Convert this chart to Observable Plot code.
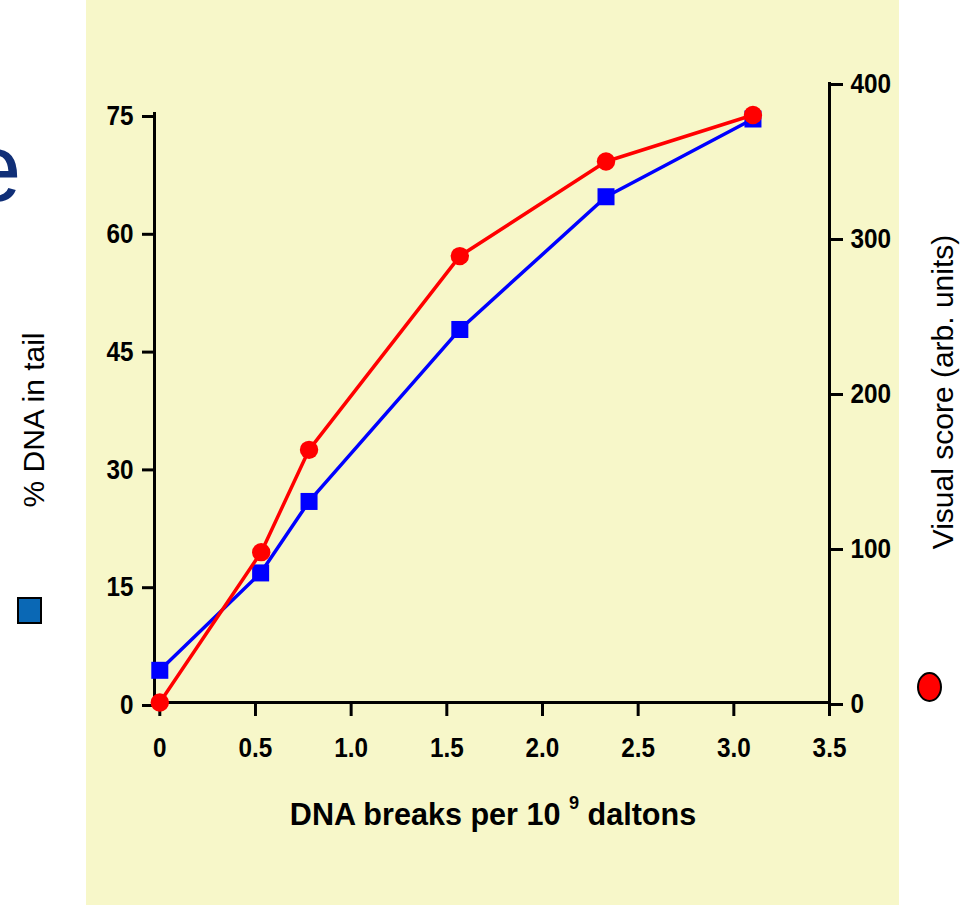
<!DOCTYPE html>
<html>
<head>
<meta charset="utf-8">
<script src="https://cdn.jsdelivr.net/npm/d3@7"></script>
<script src="https://cdn.jsdelivr.net/npm/@observablehq/plot@0.6"></script>
<style>
  body { margin: 0; background: #fff; }
  #wrap { position: relative; width: 965px; height: 905px; overflow: hidden; background: #fff;
          font-family: "Liberation Sans", Arial, Helvetica, sans-serif; }
  #panel { position: absolute; left: 86px; top: 0; width: 813px; height: 905px; background: #f7f7c9; }
  #chart { position: absolute; left: 0; top: 0; }
  #title-e { position: absolute; left: -32px; top: 120px; font-size: 96px; line-height: 96px; color: #102f77; }
  #xlabel { position: absolute; left: 193px; width: 600px; top: 798px; text-align: center; font-size: 32px;
            line-height: 32px; font-weight: bold; color: #000; white-space: nowrap;
            transform: scaleX(0.955); transform-origin: 300px 0; }
  #xlabel sup { font-size: 19px; vertical-align: 0; position: relative; top: -16px; }
  #key-square { position: absolute; left: 17px; top: 597px; width: 21px; height: 23px; background: #0a68b5;
                border: 2px solid #000; }
  #key-circle { position: absolute; left: 917px; top: 672px; width: 21px; height: 26px; background: #ff0000;
                border: 2px solid #000; border-radius: 50%; }
</style>
</head>
<body>
<div id="wrap">
  <div id="panel"></div>
  <div id="chart"></div>
  <div id="title-e">e</div>
  <div id="xlabel">DNA breaks per 10 <sup>9</sup> daltons</div>
  <div id="key-square"></div>
  <div id="key-circle"></div>
</div>
<script>
// ---- data ----
const breaksDNA    = [0, 0.527, 0.78, 1.568, 2.332, 3.10];   // x for % DNA in tail (squares)
const dnaInTail    = [4.1, 16.5, 25.6, 47.5, 64.4, 74.3];     // left axis
const breaksVisual = [0, 0.53, 0.78, 1.568, 2.332, 3.10];    // x for visual score (circles)
const visualScore  = [0, 97, 163, 288, 349, 379];            // right axis
const xTicks       = [0, 0.5, 1, 1.5, 2, 2.5, 3, 3.5];
const leftTicks    = [0, 15, 30, 45, 60, 75];
const rightTicks   = [0, 100, 200, 300, 400];
// right axis (0..400) expressed in left-axis units: 400 sits at ~78.95 on the left scale
const rightToLeft  = 78.95 / 400;

const dnaData = breaksDNA.map((x, i) => ({x, y: dnaInTail[i]}));
const visData = breaksVisual.map((x, i) => ({x, v: visualScore[i]}));

const font = '"Liberation Sans", Arial, Helvetica, sans-serif';
const tickText = {fontSize: 27, fontWeight: "bold", fontFamily: font, fill: "#000", strokeWidth: 3, stroke: "#000"};

const chart = Plot.plot({
  width: 965,
  height: 905,
  marginLeft: 154,
  marginRight: 136,
  marginTop: 113,
  marginBottom: 203,
  x: {domain: [0, 3.5], range: [159.3, 829]},
  y: {domain: [0, 75], range: [702, 113]},
  style: {background: "transparent", fontFamily: font, color: "#000", overflow: "visible"},
  marks: [
    Plot.frame({anchor: "left", stroke: "#000", strokeWidth: 3}),
    Plot.frame({anchor: "bottom", stroke: "#000", strokeWidth: 3}),
    Plot.ruleX([3.5], {y1: 0, y2: 400 * rightToLeft, stroke: "#000", strokeWidth: 3}),
    Plot.axisY({anchor: "left", ticks: leftTicks, tickSize: 12, tickPadding: 9, dy: 3, label: null, ...tickText}),
    Plot.axisY({anchor: "right", ticks: rightTicks.map(v => v * rightToLeft),
                tickFormat: d => String(Math.round(d / rightToLeft)),
                tickSize: 13, tickPadding: 8, dy: 2, label: null, ...tickText}),
    Plot.axisX({anchor: "bottom", ticks: xTicks, tickFormat: d => d === 0 ? "0" : d.toFixed(1),
                tickSize: 14, tickPadding: 21, label: null, ...tickText}),
    Plot.line(dnaData, {x: "x", y: "y", stroke: "#0000ff", strokeWidth: 3.5}),
    Plot.dot(dnaData, {x: "x", y: "y", symbol: "square", r: 9.6, fill: "#0000ff"}),
    Plot.line(visData, {x: "x", y: d => d.v * rightToLeft, stroke: "#ff0000", strokeWidth: 3.5}),
    Plot.dot(visData, {x: "x", y: d => d.v * rightToLeft, r: 9.2, fill: "#ff0000"}),
    Plot.text(["% DNA in tail"], {frameAnchor: "left", textAnchor: "middle", lineAnchor: "middle",
              rotate: -90, dx: -120, dy: 12, fontSize: 30, fontWeight: "normal", fill: "#000"}),
    Plot.text(["Visual score (arb. units)"], {frameAnchor: "right", textAnchor: "middle", lineAnchor: "middle",
              rotate: -90, dx: 114, dy: -16, fontSize: 30, fontWeight: "normal", fill: "#000"})
  ]
});
document.getElementById("chart").appendChild(chart);

// the reference's tick labels are slightly condensed horizontally
chart.querySelectorAll('g[aria-label$="tick label"] text').forEach(t => {
  const len = t.getComputedTextLength();
  t.setAttribute("textLength", (len * 0.9).toFixed(1));
  t.setAttribute("lengthAdjust", "spacingAndGlyphs");
});
</script>
</body>
</html>
